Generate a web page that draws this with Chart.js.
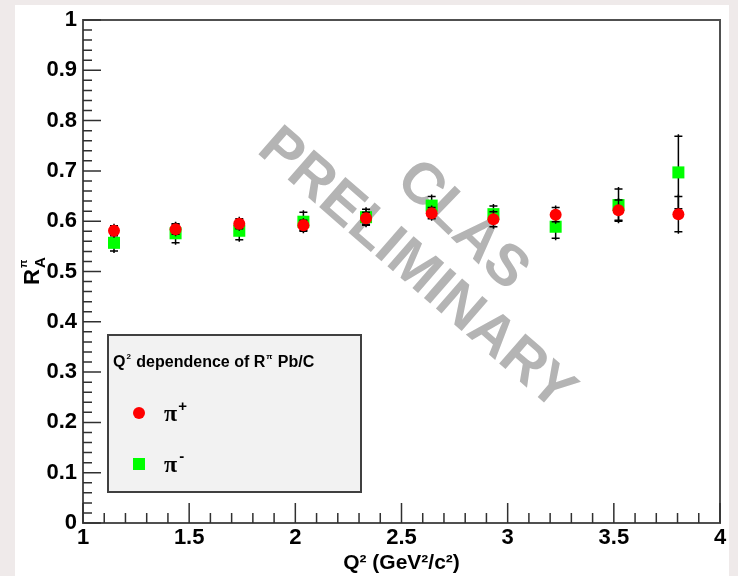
<!DOCTYPE html>
<html>
<head>
<meta charset="utf-8">
<script src="https://cdn.jsdelivr.net/npm/chart.js@4.4.1/dist/chart.umd.min.js"></script>
<style>
  body { margin: 0; background: #efeaea; }
  canvas { display: block; }
</style>
</head>
<body>
<canvas id="RaChart" width="738" height="576"></canvas>
<script>
// Q2 bin centres (GeV^2/c^2)
var q2 = [1.146, 1.436, 1.736, 2.038, 2.333, 2.642, 2.933, 3.226, 3.522, 3.804];

// R_A for pi+ (red circles) and pi- (green squares)
var piPlus = [0.581, 0.584, 0.595, 0.592, 0.606, 0.616, 0.604, 0.613, 0.622, 0.614];
var piPlusErr = [0.010, 0.010, 0.010, 0.010, 0.012, 0.011, 0.015, 0.014, 0.020, 0.035];
var piMinus = [0.557, 0.576, 0.581, 0.599, 0.608, 0.631, 0.614, 0.589, 0.632, 0.697];
var piMinusErr = [0.016, 0.019, 0.018, 0.019, 0.016, 0.018, 0.016, 0.023, 0.032, 0.072];

var xTicks = [1, 1.5, 2, 2.5, 3, 3.5, 4];
var yTicks = [0, 0.1, 0.2, 0.3, 0.4, 0.5, 0.6, 0.7, 0.8, 0.9, 1];

var boldFont = 'bold 22px "Liberation Sans", Arial, sans-serif';

function toPoints(xs, ys) {
  var pts = [];
  for (var i = 0; i < xs.length; i++) {
    pts.push({x: xs[i], y: ys[i]});
  }
  return pts;
}

// draws a list of [text, font, dy, gap] pieces one after another
function richText(ctx, x, y, parts) {
  for (var i = 0; i < parts.length; i++) {
    ctx.font = parts[i][1];
    ctx.fillText(parts[i][0], x, y + parts[i][2]);
    x += ctx.measureText(parts[i][0]).width + (parts[i][3] || 0);
  }
}

var errors = [piPlusErr, piMinusErr];

var rootStyle = {
  id: 'rootStyle',
  beforeDraw: function(chart) {
    var ctx = chart.ctx;
    ctx.save();
    ctx.fillStyle = '#efeaea';
    ctx.fillRect(0, 0, chart.width, chart.height);
    ctx.fillStyle = '#ffffff';
    ctx.fillRect(15, 5, 714, 571);
    ctx.restore();
  },
  beforeDatasetsDraw: function(chart) {
    var ctx = chart.ctx;
    // watermark
    ctx.save();
    ctx.fillStyle = '#b4b4b4';
    ctx.font = 'bold 58px "Liberation Sans", Arial, sans-serif';
    ctx.textAlign = 'center';
    ctx.textBaseline = 'middle';
    ctx.translate(462, 226);
    ctx.rotate(44 * Math.PI / 180);
    ctx.fillText('CLAS', 0, 0);
    ctx.restore();
    ctx.save();
    ctx.fillStyle = '#b4b4b4';
    ctx.font = 'bold 58px "Liberation Sans", Arial, sans-serif';
    ctx.textAlign = 'center';
    ctx.textBaseline = 'middle';
    ctx.translate(416, 270);
    ctx.rotate(41 * Math.PI / 180);
    ctx.fillText('PRELIMINARY', 0, 0);
    ctx.restore();
  },
  beforeDatasetDraw: function(chart, args) {
    // error bars go under the markers of their own graph
    var ctx = chart.ctx;
    var xs = chart.scales.x, ys = chart.scales.y;
    var data = chart.data.datasets[args.index].data;
    var err = errors[args.index];
    ctx.save();
    ctx.strokeStyle = '#000000';
    ctx.lineWidth = 1.5;
    for (var i = 0; i < data.length; i++) {
      var px = xs.getPixelForValue(data[i].x);
      var top = ys.getPixelForValue(data[i].y + err[i]);
      var bot = ys.getPixelForValue(data[i].y - err[i]);
      ctx.beginPath();
      ctx.moveTo(px, top - 2);
      ctx.lineTo(px, bot + 2);
      ctx.moveTo(px - 4, top);
      ctx.lineTo(px + 4, top);
      ctx.moveTo(px - 4, bot);
      ctx.lineTo(px + 4, bot);
      ctx.stroke();
    }
    ctx.restore();
  },
  afterDraw: function(chart) {
    var ctx = chart.ctx;
    var a = chart.chartArea;
    var xs = chart.scales.x, ys = chart.scales.y;
    ctx.save();
    // frame
    ctx.strokeStyle = '#505050';
    ctx.lineWidth = 2;
    ctx.strokeRect(a.left, a.top, a.right - a.left, a.bottom - a.top);
    // ticks inside the frame
    ctx.strokeStyle = '#303030';
    ctx.lineWidth = 1.5;
    ctx.beginPath();
    for (var k = 0; k <= 50; k++) {
      var py = ys.getPixelForValue(k / 50);
      var len = (k % 5 == 0) ? 18 : 9;
      ctx.moveTo(a.left, py);
      ctx.lineTo(a.left + len, py);
    }
    for (var j = 0; j <= 30; j++) {
      var px = xs.getPixelForValue(1 + j / 10);
      var l2 = (j % 5 == 0) ? 20 : 10;
      ctx.moveTo(px, a.bottom);
      ctx.lineTo(px, a.bottom - l2);
    }
    ctx.stroke();

    // y axis title R^pi_A, rotated
    ctx.fillStyle = '#000000';
    ctx.textBaseline = 'alphabetic';
    ctx.textAlign = 'left';
    ctx.translate(39, 285);
    ctx.rotate(-Math.PI / 2);
    ctx.font = boldFont;
    ctx.fillText('R', 0, 0);
    var rw = ctx.measureText('R').width;
    ctx.font = 'bold 11px "Liberation Sans", Arial, sans-serif';
    ctx.fillText('π', rw + 1, -12);
    ctx.font = 'bold 15px "Liberation Sans", Arial, sans-serif';
    ctx.fillText('A', rw + 1, 6);
    ctx.restore();

    // legend box
    ctx.save();
    ctx.fillStyle = '#f2f2f2';
    ctx.fillRect(108, 335, 253, 157);
    ctx.strokeStyle = '#404040';
    ctx.lineWidth = 2;
    ctx.strokeRect(108, 335, 253, 157);
    ctx.fillStyle = '#000000';
    ctx.textAlign = 'left';
    ctx.textBaseline = 'alphabetic';
    var hf = 'bold 16px "Liberation Sans", Arial, sans-serif';
    var sf = 'bold 8px "Liberation Sans", Arial, sans-serif';
    richText(ctx, 113, 367, [
      ['Q', hf, 0, 1], ['2', sf, -8, 1], [' dependence of R', hf, 0, 1], ['π', sf, -8, 1], [' Pb/C', hf, 0]
    ]);
    // markers
    ctx.fillStyle = '#ff0000';
    ctx.beginPath();
    ctx.arc(139, 413, 6, 0, Math.PI * 2);
    ctx.fill();
    ctx.fillStyle = '#00ff00';
    ctx.fillRect(133, 458, 12, 12);
    ctx.fillStyle = '#000000';
    var pf = 'bold 24px "Liberation Serif", "DejaVu Serif", serif';
    var sg = 'bold 15px "Liberation Sans", Arial, sans-serif';
    richText(ctx, 164, 421, [['π', pf, 0, 1], ['+', sg, -10]]);
    richText(ctx, 164, 472, [['π', pf, 0, 2], ['-', sg, -11]]);
    ctx.restore();
  }
};

var ctx = document.getElementById('RaChart').getContext('2d');
var myChart = new Chart(ctx, {
  type: 'scatter',
  data: {
    datasets: [{
      label: 'π+',
      data: toPoints(q2, piPlus),
      pointStyle: 'circle',
      pointRadius: 6,
      pointHoverRadius: 6,
      backgroundColor: '#ff0000',
      borderColor: '#ff0000',
      borderWidth: 0
    }, {
      label: 'π-',
      data: toPoints(q2, piMinus),
      pointStyle: 'rect',
      pointRadius: 8.5,
      pointHoverRadius: 8.5,
      backgroundColor: '#00ff00',
      borderColor: '#00ff00',
      borderWidth: 0
    }]
  },
  options: {
    responsive: false,
    animation: false,
    devicePixelRatio: 1,
    layout: { padding: { top: 20, right: 18, left: 0, bottom: 0 } },
    plugins: {
      legend: { display: false },
      tooltip: { enabled: false }
    },
    scales: {
      x: {
        type: 'linear',
        min: 1,
        max: 4,
        afterBuildTicks: function(scale) {
          scale.ticks = xTicks.map(function(v) { return {value: v}; });
        },
        afterFit: function(scale) { scale.height = 53; },
        grid: { display: false, drawTicks: false },
        border: { display: false },
        ticks: {
          padding: 2,
          color: '#000000',
          font: { family: '"Liberation Sans", Arial, sans-serif', size: 22, weight: 'bold' },
          callback: function(v) { return String(v); }
        },
        title: {
          display: true,
          text: 'Q² (GeV²/c²)',
          color: '#000000',
          font: { family: '"Liberation Sans", Arial, sans-serif', size: 21, weight: 'bold' },
          padding: { top: 0, bottom: 0 }
        }
      },
      y: {
        type: 'linear',
        min: 0,
        max: 1,
        afterBuildTicks: function(scale) {
          scale.ticks = yTicks.map(function(v) { return {value: v}; });
        },
        afterFit: function(scale) { scale.width = 83; },
        grid: { display: false, drawTicks: false },
        border: { display: false },
        ticks: {
          padding: 6,
          color: '#000000',
          font: { family: '"Liberation Sans", Arial, sans-serif', size: 22, weight: 'bold' },
          callback: function(v) { return String(+v.toFixed(1)); }
        }
      }
    }
  },
  plugins: [rootStyle]
});
</script>
</body>
</html>
